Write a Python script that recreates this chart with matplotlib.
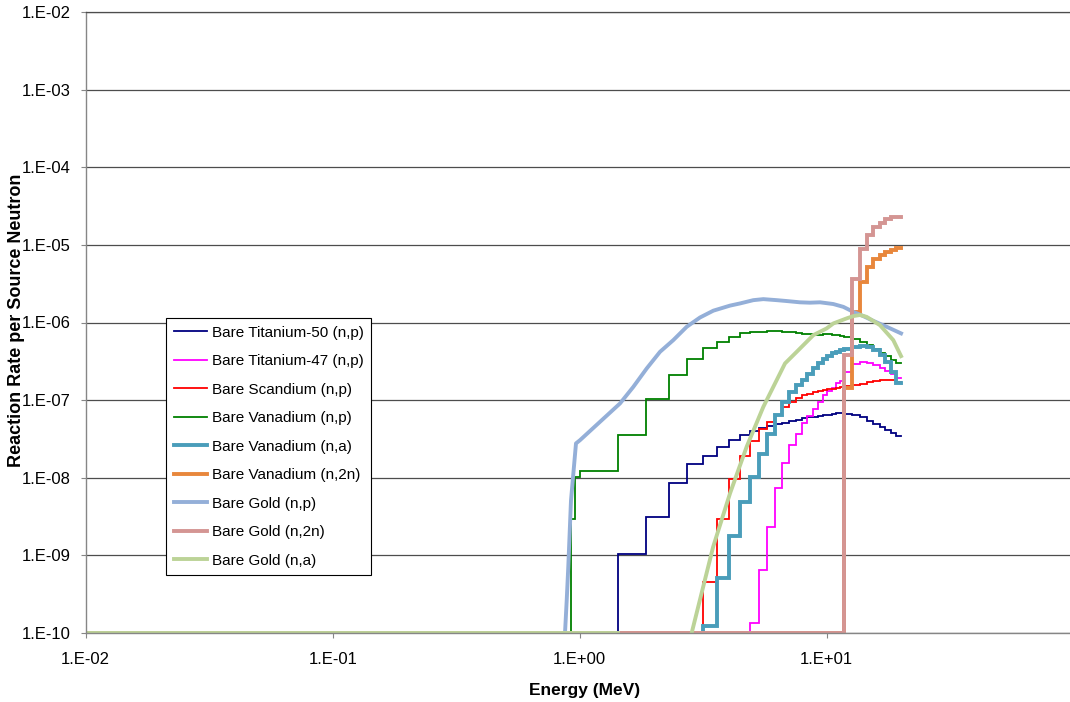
import numpy as np
import matplotlib
matplotlib.use('Agg')
import matplotlib.pyplot as plt
from matplotlib.ticker import FixedLocator, FuncFormatter, NullLocator

plt.rcParams['font.family'] = ['Liberation Sans', 'DejaVu Sans']

# energy group edges (MeV) shared by the step series
edges = [0.92, 0.96, 1.00, 1.43, 1.86, 2.30, 2.73, 3.16, 3.59, 4.02, 4.45,
         4.89, 5.32, 5.75, 6.18, 6.61, 7.05, 7.48, 7.91, 8.34, 8.77, 9.20,
         9.64, 10.07, 10.50, 10.93, 11.36, 11.80, 12.71, 13.62, 14.53, 15.44,
         16.36, 17.27, 18.18, 19.09, 20.00]

# reaction rate per group (0 = below plotted range)
ti50_np = [0, 0, 0, 1.04e-9, 3.13e-9, 8.6e-9, 1.5e-8, 1.9e-8, 2.5e-8, 3.05e-8,
           3.54e-8, 4.05e-8, 4.36e-8, 4.62e-8, 4.9e-8, 5.13e-8, 5.36e-8, 5.6e-8,
           5.81e-8, 6.0e-8, 6.1e-8, 6.25e-8, 6.41e-8, 6.5e-8, 6.6e-8, 6.74e-8,
           6.74e-8, 6.65e-8, 6.4e-8, 5.98e-8, 5.45e-8, 4.98e-8, 4.49e-8, 4.1e-8,
           3.76e-8, 3.44e-8]
ti47_np = [0, 0, 0, 0, 0, 0, 0, 0, 0, 0, 0,
           1.35e-10, 6.4e-10, 2.3e-9, 7.4e-9, 1.56e-8, 2.63e-8, 3.7e-8, 5.1e-8,
           6.2e-8, 7.8e-8, 9.5e-8, 1.16e-7, 1.32e-7, 1.45e-7, 1.67e-7, 1.75e-7,
           2.3e-7, 2.9e-7, 3.1e-7, 3.05e-7, 2.85e-7, 2.6e-7, 2.35e-7, 2.15e-7,
           1.95e-7]
sc_np = [0, 0, 0, 0, 0, 0, 0,
         4.56e-10, 2.9e-9, 9.5e-9, 1.9e-8, 2.99e-8, 4.19e-8, 5.25e-8, 6.41e-8,
         8.05e-8, 9.5e-8, 1.05e-7, 1.16e-7, 1.2e-7, 1.27e-7, 1.3e-7, 1.35e-7,
         1.39e-7, 1.4e-7, 1.43e-7, 1.46e-7, 1.5e-7, 1.56e-7, 1.63e-7, 1.71e-7,
         1.78e-7, 1.81e-7, 1.84e-7, 1.81e-7, 1.72e-7]
v_np = [2.9e-9, 1.03e-8, 1.23e-8, 3.54e-8, 1.03e-7, 2.1e-7, 3.37e-7, 4.63e-7,
        5.64e-7, 6.54e-7, 7.24e-7, 7.5e-7, 7.6e-7, 7.7e-7, 7.7e-7, 7.6e-7,
        7.5e-7, 7.3e-7, 7.2e-7, 7.1e-7, 7.0e-7, 7.0e-7, 7.1e-7, 7.1e-7, 7.0e-7,
        6.9e-7, 6.7e-7, 6.6e-7, 6.1e-7, 5.6e-7, 5.2e-7, 4.6e-7, 4.1e-7, 3.7e-7,
        3.3e-7, 3.0e-7]
v_na = [0, 0, 0, 0, 0, 0, 0,
        1.22e-10, 5.1e-10, 1.77e-9, 4.9e-9, 1.01e-8, 2.0e-8, 3.71e-8, 6.41e-8,
        9.5e-8, 1.28e-7, 1.56e-7, 1.81e-7, 2.17e-7, 2.56e-7, 2.97e-7, 3.34e-7,
        3.69e-7, 4.0e-7, 4.2e-7, 4.4e-7, 4.6e-7, 4.8e-7, 4.97e-7, 4.85e-7,
        4.41e-7, 3.8e-7, 3.09e-7, 2.3e-7, 1.66e-7]
v_n2n = [0] * 27 + [1.43e-7, 1.37e-6, 3.35e-6, 5.22e-6, 6.5e-6, 7.39e-6,
                    8.0e-6, 8.57e-6, 9.0e-6]
au_n2n = [0] * 27 + [3.8e-7, 3.62e-6, 8.75e-6, 1.34e-5, 1.71e-5, 1.93e-5,
                     2.13e-5, 2.28e-5, 2.32e-5]

# smooth-line series (energy, rate)
au_np_e = [0.01, 0.872, 0.886, 0.899, 0.922, 0.966, 1.003, 1.456, 1.648, 1.868,
           2.114, 2.393, 2.712, 3.069, 3.475, 4.06, 4.457, 5.045, 5.54, 6.28,
           6.89, 7.79, 8.55, 9.40, 10.63, 11.68, 12.82, 14.06, 15.44, 17.5,
           20.0]
au_np = [1e-10, 1e-10, 2.65e-10, 7.1e-10, 5.1e-9, 2.77e-8, 3.05e-8, 9.06e-8,
         1.48e-7, 2.56e-7, 4.19e-7, 5.93e-7, 8.81e-7, 1.16e-6, 1.42e-6, 1.65e-6,
         1.76e-6, 1.94e-6, 2.0e-6, 1.94e-6, 1.89e-6, 1.82e-6, 1.8e-6, 1.82e-6,
         1.73e-6, 1.59e-6, 1.37e-6, 1.21e-6, 1.05e-6, 8.8e-7, 7.24e-7]
au_na_e = [0.01, 1.43, np.nan, 2.84, 3.47, 4.06, 4.74, 5.54, 6.78, 7.56, 8.83,
           10.0, 10.64, 12.05, 12.82, 13.64, 14.52, 16.43, 18.6, 20.0]
au_na = [1e-10, 1e-10, np.nan, 1e-10, 1.29e-9, 6.28e-9, 2.5e-8, 8.2e-8,
         2.97e-7, 4.19e-7, 6.88e-7, 8.4e-7, 9.73e-7, 1.13e-6, 1.21e-6, 1.25e-6,
         1.18e-6, 9.24e-7, 5.93e-7, 3.69e-7]

ymin, ymax = 1e-10, 1e-2
W, H = 1070, 702

fig = plt.figure(figsize=(W / 100, H / 100), dpi=100)
ax = fig.add_axes([85.7 / W, 69 / H, (W - 85.7) / W, 621 / H])
ax.set_xscale('log')
ax.set_yscale('log')


def step(vals, color, lw, label):
    x = [0.01] + edges
    y = np.clip(np.array(vals, dtype=float), ymin, None)
    y = np.concatenate([[ymin], y, [y[-1]]])
    ax.plot(x, y, drawstyle='steps-post', color=color, lw=lw, label=label,
            solid_joinstyle='miter')


thin, thick = 1.3, 2.8
step(ti50_np, '#000080', thin, 'Bare Titanium-50 (n,p)')
step(ti47_np, '#FF00FF', thin, 'Bare Titanium-47 (n,p)')
step(sc_np, '#FF0000', thin, 'Bare Scandium (n,p)')
step(v_np, '#008000', thin, 'Bare Vanadium (n,p)')
step(v_na, '#4A9DBA', thick, 'Bare Vanadium (n,a)')
step(v_n2n, '#E8873C', thick, 'Bare Vanadium (n,2n)')
ax.plot(au_np_e, au_np, color='#94AFD8', lw=thick, label='Bare Gold (n,p)',
        solid_joinstyle='round')
step(au_n2n, '#D49593', thick, 'Bare Gold (n,2n)')
ax.plot(au_na_e, au_na, color='#BCD397', lw=thick, label='Bare Gold (n,a)',
        solid_joinstyle='round')

ax.set_xlim(1e-2, 10 ** (-2 + (W - 85.7) / 247))
ax.set_ylim(ymin, ymax)

fmt = FuncFormatter(lambda v, p: '1.E%+03d' % int(round(np.log10(v))))
ax.xaxis.set_major_locator(FixedLocator([1e-2, 1e-1, 1e0, 1e1]))
ax.yaxis.set_major_locator(FixedLocator([10.0 ** k for k in range(-10, -1)]))
ax.xaxis.set_major_formatter(fmt)
ax.yaxis.set_major_formatter(fmt)
ax.xaxis.set_minor_locator(NullLocator())
ax.yaxis.set_minor_locator(NullLocator())
ax.tick_params(axis='both', direction='out', length=3.6, width=0.8,
               color='#868686', labelsize=12)
ax.tick_params(axis='x', pad=10)
ax.tick_params(axis='y', pad=7)

ax.yaxis.grid(True, color='#4d4d4d', lw=0.9)
ax.set_axisbelow(True)
for s in ['left', 'bottom']:
    ax.spines[s].set_color('#868686')
    ax.spines[s].set_linewidth(1.0)
ax.spines['top'].set_color('#4d4d4d')
ax.spines['top'].set_linewidth(0.9)
ax.spines['right'].set_visible(False)

fig.text(585 / W, 1 - 690 / H, 'Energy (MeV)', ha='center', va='center',
         fontsize=12.5, fontweight='bold')
fig.text(17 / W, 1 - 320 / H, 'Reaction Rate per Source Neutron', rotation=90,
         ha='center', va='center', fontsize=13, fontweight='bold')

leg = ax.legend(loc='upper left', bbox_to_anchor=(166 / W, 1 - 318 / H),
                bbox_transform=fig.transFigure, borderaxespad=0, fancybox=False,
                edgecolor='black', framealpha=1, fontsize=11, borderpad=0.5,
                handlelength=2.2, handletextpad=0.3, labelspacing=0.95)
leg.get_frame().set_linewidth(0.8)

fig.savefig('out.png', dpi=100)
